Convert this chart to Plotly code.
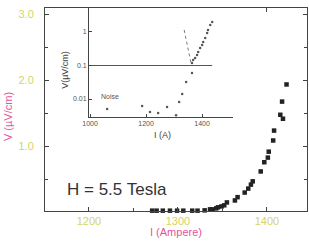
import plotly.graph_objects as go

# Main plot data: current I (A) vs voltage V (uV/cm)
main_I = [1271, 1276, 1283, 1291, 1299, 1306, 1316, 1322, 1330, 1336, 1339, 1343, 1345,
          1349, 1352, 1355, 1364, 1367, 1375, 1379, 1382, 1384, 1393, 1397, 1401, 1402,
          1407, 1408, 1415, 1418, 1417, 1422]
main_V = [0.025, 0.025, 0.025, 0.025, 0.025, 0.025, 0.025, 0.025, 0.03, 0.045, 0.045, 0.06, 0.076,
          0.09, 0.106, 0.15, 0.18, 0.23, 0.30, 0.36, 0.42, 0.47, 0.62, 0.76, 0.83, 0.92,
          1.09, 1.24, 1.48, 1.42, 1.68, 1.94]

# Inset data (log scale)
inset_I = [1061, 1186, 1214, 1243, 1275, 1307, 1318, 1329, 1343, 1364, 1364, 1368, 1375,
           1382, 1386, 1393, 1400, 1404, 1411, 1418, 1421, 1429, 1436]
inset_V = [0.0050, 0.0062, 0.0041, 0.0038, 0.0058, 0.0033, 0.0081, 0.014, 0.032, 0.060,
           0.119, 0.146, 0.168, 0.206, 0.253, 0.333, 0.409, 0.50, 0.66, 0.93, 1.15, 1.62, 1.99]

# Reference lines in inset
crit_I = [1000, 1436]
crit_V = [0.1, 0.1]
fit_I = [1336, 1361]
fit_V = [1.15, 0.111]

main_xticks = [1200, 1300, 1400]
main_yticks = [1.0, 2.0, 3.0]
inset_xticks = [1000, 1200, 1400]
inset_yticks = [0.01, 0.1, 1]
inset_yticktext = ["0.01", "0.1", "1"]

tick_yellow = "#d4d46a"
title_pink = "#e4559a"
axis_col = "#444444"

fig = go.Figure()
fig.add_trace(go.Scatter(x=main_I, y=main_V, mode="markers", cliponaxis=False,
                         marker=dict(color="#222222", size=4.5, symbol="square"),
                         xaxis="x", yaxis="y", showlegend=False))
fig.add_trace(go.Scatter(x=crit_I, y=crit_V, mode="lines",
                         line=dict(color="#555555", width=1),
                         xaxis="x2", yaxis="y2", showlegend=False))
fig.add_trace(go.Scatter(x=fit_I, y=fit_V, mode="lines",
                         line=dict(color="#777777", width=1, dash="dot"),
                         xaxis="x2", yaxis="y2", showlegend=False))
fig.add_trace(go.Scatter(x=inset_I, y=inset_V, mode="markers",
                         marker=dict(color="#555555", size=2.5),
                         xaxis="x2", yaxis="y2", showlegend=False))

fig.update_layout(
    width=309, height=246,
    margin=dict(l=45, r=2, t=8, b=35, autoexpand=False),
    paper_bgcolor="white", plot_bgcolor="white",
    font=dict(family="Arial, Liberation Sans, sans-serif"),
    xaxis=dict(range=[1150.6, 1445], tickvals=main_xticks, ticks="inside", ticklen=4,
               automargin=False,
               showline=True, linecolor=axis_col, linewidth=1, mirror="ticks",
               tickcolor=axis_col, showgrid=False, zeroline=False,
               tickfont=dict(color=tick_yellow, size=11),
               minor=dict(dtick=50, ticks="inside", ticklen=3, tickcolor=axis_col)),
    yaxis=dict(range=[0.02, 3.1], tickvals=main_yticks, tickformat=".1f",
               ticks="inside", ticklen=4, automargin=False,
               showline=True, linecolor=axis_col, linewidth=1, mirror="ticks",
               tickcolor=axis_col, showgrid=False, zeroline=False,
               tickfont=dict(color=tick_yellow, size=11), ticklabelstandoff=8,
               minor=dict(dtick=0.5, ticks="inside", ticklen=3, tickcolor=axis_col)),
    xaxis2=dict(domain=[0.168, 0.718], anchor="y2", range=[996.4, 1510.7],
                tickvals=inset_xticks, ticks="inside", ticklen=3, automargin=False,
                showline=True, linecolor=axis_col, linewidth=1, tickcolor=axis_col,
                showgrid=False, zeroline=False,
                tickfont=dict(color="#555555", size=7)),
    yaxis2=dict(domain=[0.463, 1.0], anchor="x2", type="log", range=[-2.537, 0.716],
                tickvals=inset_yticks, ticktext=inset_yticktext, ticks="inside", ticklen=3,
                automargin=False,
                showline=True, linecolor=axis_col, linewidth=1, tickcolor=axis_col,
                showgrid=False, zeroline=False,
                tickfont=dict(color="#555555", size=7)),
)

fig.add_annotation(text="H = 5.5 Tesla", x=1231, y=0.34, xref="x", yref="y",
                   showarrow=False, font=dict(size=17, color="#333333"))
fig.add_annotation(text="I (Ampere)", x=0.5, y=-0.143, xref="paper", yref="paper",
                   showarrow=False, font=dict(size=11, color=title_pink))
fig.add_annotation(text="V (\u00b5V/cm)", x=-0.141, y=0.463, xref="paper", yref="paper",
                   xanchor="center", yanchor="middle",
                   textangle=-90, showarrow=False, font=dict(size=11, color=title_pink))
fig.add_annotation(text="V(\u00b5V/cm)", x=0.076, y=0.695, xref="paper", yref="paper",
                   xanchor="center", yanchor="middle",
                   textangle=-90, showarrow=False, font=dict(size=9, color="#444444"))
fig.add_annotation(text="I (A)", x=0.45, y=0.374, xref="paper", yref="paper",
                   showarrow=False, font=dict(size=9, color="#444444"))
fig.add_annotation(text="Noise", x=1071, y=-1.91, xref="x2", yref="y2",
                   showarrow=False, font=dict(size=7, color="#555555"))

fig.write_html("out.html", config={"displayModeBar": False},
               post_script="document.body.style.margin='0';document.body.style.overflow='hidden';")
